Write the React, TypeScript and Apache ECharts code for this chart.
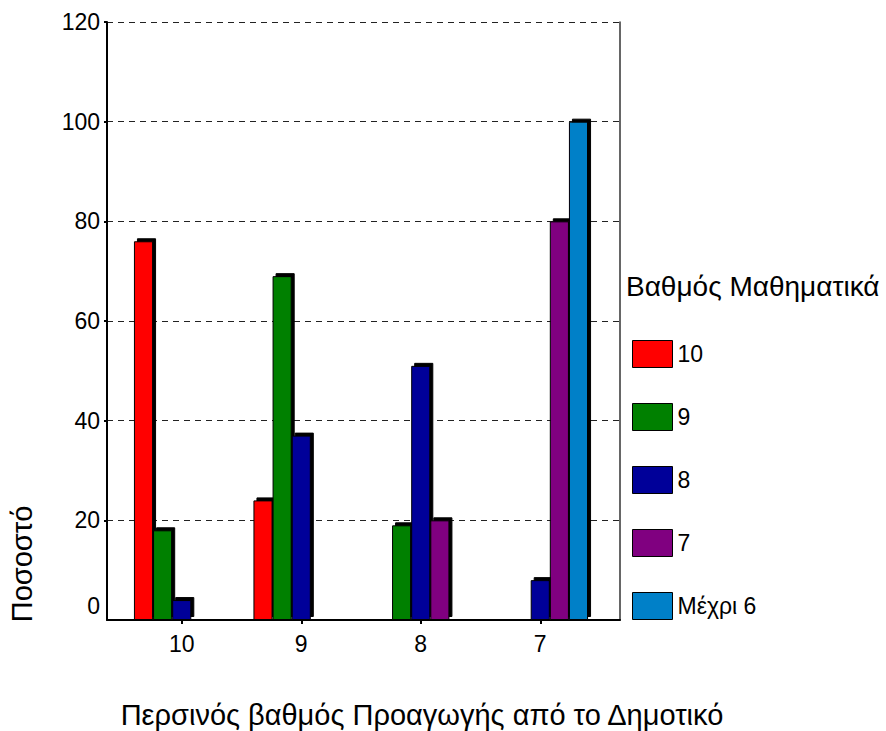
import React, { useEffect, useRef } from "react";
import * as echarts from "echarts";

const categories = ["10", "9", "8", "7"];
const seriesNames = ["10", "9", "8", "7", "Μέχρι 6"];
const grade10 = [76, 24, 0, 0];
const grade9 = [18, 69, 19, 0];
const grade8 = [4, 37, 51, 8];
const grade7 = [0, 0, 20, 80];
const upTo6 = [0, 0, 0, 100];
const yTicks = [0, 20, 40, 60, 80, 100, 120];

const seriesValues = [grade10, grade9, grade8, grade7, upTo6];
const colors = ["#ff0000", "#008000", "#000099", "#800080", "#0080c8"];

const FONT = "'Liberation Sans', Arial, sans-serif";

export default function App() {
  const ref = useRef<HTMLDivElement>(null);
  useEffect(() => {
    if (!ref.current) return;
    const chart = echarts.init(ref.current, null, { renderer: "svg" });
    const yMax = yTicks[yTicks.length - 1];
    const step = yTicks[1] - yTicks[0];
    chart.setOption({
      animation: false,
      backgroundColor: "#fff",
      textStyle: { fontFamily: FONT },
      grid: [
        { left: 107, right: 266, top: 22, bottom: 111 },
        { left: 122, right: 286, top: 22, bottom: 111 },
      ],
      xAxis: [
        {
          gridIndex: 0,
          type: "value",
          min: 0,
          max: 1,
          axisLine: { show: true, lineStyle: { color: "#000", width: 2 } },
          axisTick: { show: false },
          axisLabel: { show: false },
          splitLine: { show: false },
        },
        {
          gridIndex: 1,
          type: "category",
          data: categories,
          axisLine: { show: false },
          axisTick: {
            show: true,
            alignWithLabel: true,
            length: 4,
            lineStyle: { color: "#000", width: 2 },
          },
          axisLabel: { fontSize: 23, color: "#000", margin: 12, fontFamily: FONT },
          splitLine: { show: false },
        },
      ],
      yAxis: [
        {
          gridIndex: 0,
          type: "value",
          min: 0,
          max: yMax,
          interval: step,
          axisLine: { show: true, lineStyle: { color: "#000", width: 2 } },
          axisTick: { show: true, length: 3, lineStyle: { color: "#000", width: 2 } },
          axisLabel: {
            fontSize: 23,
            color: "#000",
            margin: 7,
            showMinLabel: false,
            fontFamily: FONT,
          },
          splitLine: {
            show: true,
            lineStyle: { color: "#222", width: 1, type: [6, 5] },
          },
        },
        {
          gridIndex: 0,
          type: "value",
          position: "right",
          min: 0,
          max: yMax,
          interval: step,
          axisLine: { show: true, lineStyle: { color: "#333", width: 1.5 } },
          axisTick: { show: false },
          axisLabel: { show: false },
          splitLine: { show: false },
        },
        {
          gridIndex: 1,
          type: "value",
          min: 0,
          max: yMax,
          interval: step,
          show: false,
        },
      ],
      legend: {
        data: seriesNames,
        orient: "vertical",
        left: 627,
        top: 335,
        itemWidth: 40,
        itemHeight: 27,
        itemGap: 35,
        icon: "rect",
        textStyle: { fontSize: 23, color: "#000", fontFamily: FONT },
        itemStyle: {
          borderColor: "#000",
          borderWidth: 1,
          shadowBlur: 0,
          shadowOffsetX: 0,
          shadowOffsetY: 0,
          shadowColor: "rgba(0,0,0,0)",
        },
      },
      series: seriesNames.map((name, i) => ({
        name,
        type: "bar",
        xAxisIndex: 1,
        yAxisIndex: 2,
        data: seriesValues[i],
        barGap: 0,
        barCategoryGap: "20%",
        itemStyle: {
          color: colors[i],
          borderColor: "#000",
          borderWidth: 1,
          shadowColor: "#000",
          shadowBlur: 0,
          shadowOffsetX: 3,
          shadowOffsetY: -3,
        },
      })),
      graphic: [
        {
          type: "text",
          left: 626,
          top: 272,
          style: {
            text: "Βαθμός Μαθηματικά",
            fontSize: 28,
            fill: "#000",
            fontFamily: FONT,
          },
        },
        {
          type: "text",
          x: 22,
          y: 564,
          rotation: Math.PI / 2,
          style: {
            text: "Ποσοστό",
            fontSize: 29,
            fill: "#000",
            fontFamily: FONT,
            align: "center",
            verticalAlign: "middle",
          },
        },
        {
          type: "text",
          x: 422,
          y: 715,
          style: {
            text: "Περσινός βαθμός Προαγωγής από το Δημοτικό",
            fontSize: 29,
            fill: "#000",
            fontFamily: FONT,
            align: "center",
            verticalAlign: "middle",
          },
        },
        {
          type: "text",
          x: 100,
          y: 606,
          style: {
            text: String(yTicks[0]),
            fontSize: 23,
            fill: "#000",
            fontFamily: FONT,
            align: "right",
            verticalAlign: "middle",
          },
        },
      ],
    });
    return () => chart.dispose();
  }, []);
  return (
    <div
      ref={ref}
      style={{ position: "fixed", left: 0, top: 0, width: 886, height: 731 }}
    />
  );
}
